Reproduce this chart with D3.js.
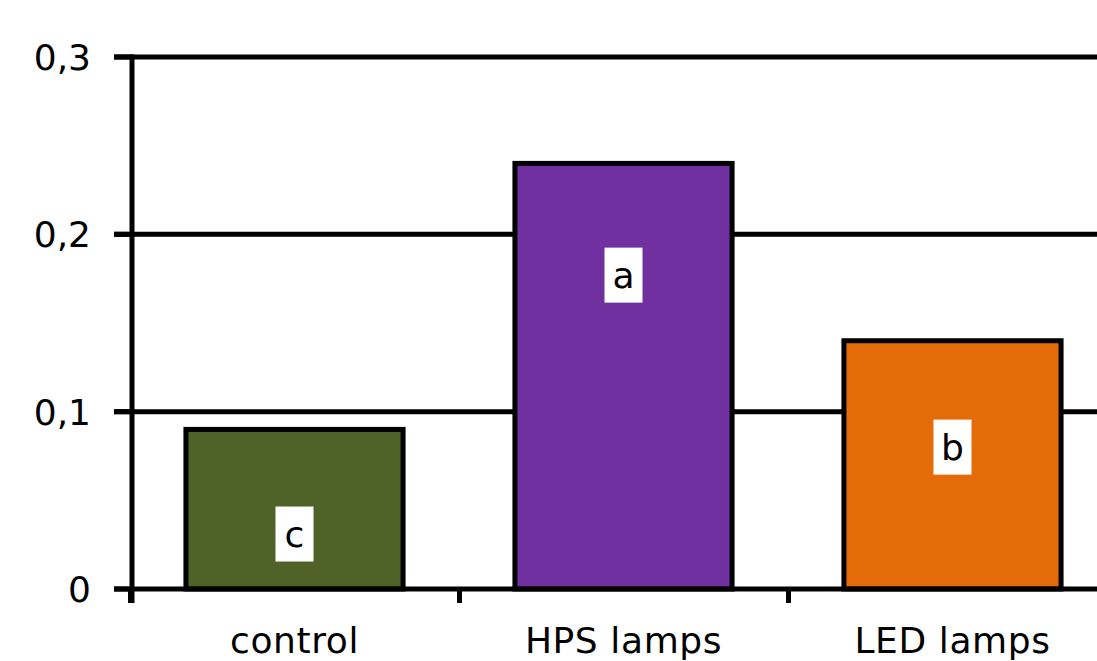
<!DOCTYPE html>
<html>
<head>
<meta charset="utf-8">
<script src="https://cdn.jsdelivr.net/npm/d3@7"></script>
<style>
  body { margin: 0; background: #fff; }
  text { font-family: "DejaVu Sans", Verdana, sans-serif; }
</style>
</head>
<body>
<div id="chart"></div>
<script>
var width  = 1097;
var height = 661;

// data
var categories = ["control", "HPS lamps", "LED lamps"];
var values     = [0.09, 0.24, 0.14];
var letters    = ["c", "a", "b"];
var letterAt   = [0.031, 0.177, 0.08];   // where the significance letter sits (data units)
var yTicks     = [0, 0.1, 0.2, 0.3];
var yTickText  = ["0", "0,1", "0,2", "0,3"];
var colors     = ["#4F6228", "#7030A0", "#E36C09"];

var svg = d3.select("#chart").append("svg")
  .attr("width", width)
  .attr("height", height);

var y = d3.scaleLinear().domain([0, 0.3]).range([589, 57]);
var x = d3.scaleBand().domain(categories).range([130, 1117]).padding(0);

// gridlines (include the 0.3 line, it doubles as the top)
svg.selectAll(".grid")
  .data(yTicks.slice(1))
  .enter().append("line")
  .attr("class", "grid")
  .attr("x1", 114).attr("x2", width)
  .attr("y1", function(d) { return y(d); })
  .attr("y2", function(d) { return y(d); })
  .style("stroke", "#000").style("stroke-width", 5);

// bars
var barW = x.bandwidth() * 0.66;
svg.selectAll(".bar")
  .data(values)
  .enter().append("rect")
  .attr("class", "bar")
  .attr("x", function(d, i) { return x(categories[i]) + (x.bandwidth() - barW) / 2; })
  .attr("y", function(d) { return y(d); })
  .attr("width", barW)
  .attr("height", function(d) { return y(0) - y(d); })
  .style("fill", function(d, i) { return colors[i]; })
  .style("stroke", "#000").style("stroke-width", 5);

// y axis line + ticks
svg.append("line")
  .attr("x1", 132).attr("x2", 132).attr("y1", y(0.3) - 2.5).attr("y2", 603)
  .style("stroke", "#000").style("stroke-width", 5);
svg.selectAll(".ytick")
  .data(yTicks)
  .enter().append("line")
  .attr("x1", 114).attr("x2", 132)
  .attr("y1", function(d) { return y(d); })
  .attr("y2", function(d) { return y(d); })
  .style("stroke", "#000").style("stroke-width", 5);
svg.selectAll(".ylab")
  .data(yTicks)
  .enter().append("text")
  .attr("x", 91)
  .attr("y", function(d) { return y(d); })
  .attr("dy", "0.36em")
  .attr("text-anchor", "end")
  .style("font-size", "36px")
  .text(function(d, i) { return yTickText[i]; });

// x axis baseline + ticks between bands
svg.append("line")
  .attr("x1", 114).attr("x2", width).attr("y1", y(0)).attr("y2", y(0))
  .style("stroke", "#000").style("stroke-width", 5);
svg.selectAll(".xtick")
  .data(categories)
  .enter().append("line")
  .attr("x1", function(d) { return x(d) + 0.5; })
  .attr("x2", function(d) { return x(d) + 0.5; })
  .attr("y1", y(0)).attr("y2", 603)
  .style("stroke", "#000").style("stroke-width", 5);
svg.selectAll(".xlab")
  .data(categories)
  .enter().append("text")
  .attr("x", function(d) { return x(d) + x.bandwidth() / 2; })
  .attr("y", 653)
  .attr("text-anchor", "middle")
  .style("font-size", "36px").style("letter-spacing", "0.6px")
  .text(function(d) { return d; });

// significance letters in white boxes
var marks = svg.selectAll(".letter")
  .data(letters)
  .enter().append("g")
  .attr("transform", function(d, i) {
    return "translate(" + (x(categories[i]) + x.bandwidth() / 2) + "," + y(letterAt[i]) + ")";
  });
marks.append("rect")
  .attr("x", -19).attr("y", -27.5).attr("width", 38).attr("height", 55)
  .style("fill", "#fff");
marks.append("text")
  .attr("text-anchor", "middle")
  .attr("dy", "0.36em")
  .style("font-size", "36px")
  .text(function(d) { return d; });
</script>
</body>
</html>
